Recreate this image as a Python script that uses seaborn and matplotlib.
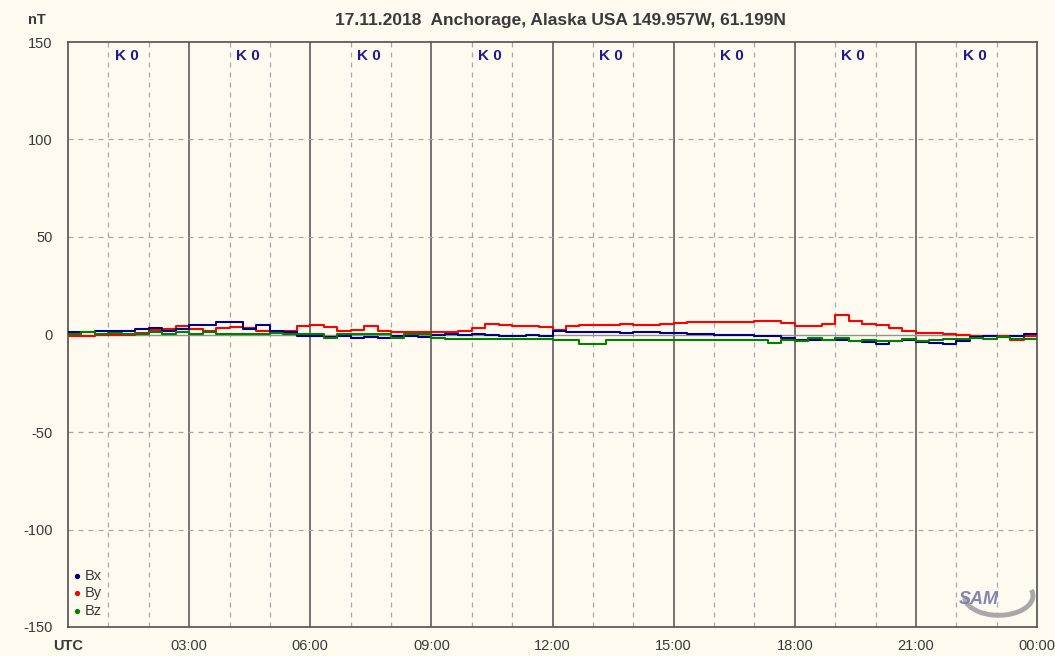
import numpy as np
import pandas as pd
import matplotlib
matplotlib.use("Agg")
import matplotlib.pyplot as plt
import seaborn as sns
from matplotlib.patches import Arc

# magnetometer data, 20 min steps from 00:00 to 24:00 (nT)
bx = [1.4, 1.4, 1.7, 2.0, 1.7, 2.6, 3.4, 2.0, 2.7, 5.0, 5.0, 6.5, 6.5, 2.6, 4.8, 2.0, 1.4, -0.9,
      -1.0, -1.4, -1.0, -2.0, -1.4, -1.7, -0.7, -0.7, -1.4, 0.0, 0.3, 0.0, 0.3, -0.3, -0.7, -0.7, -0.3, -0.7,
      1.7, 1.4, 1.4, 1.4, 1.4, 1.0, 1.4, 1.4, 1.0, 0.7, 0.3, 0.3, 0.0, 0.0, -0.3, -0.7, -1.0, -2.0,
      -2.7, -2.7, -3.0, -3.0, -3.4, -4.0, -4.8, -3.4, -2.7, -4.0, -4.4, -4.8, -3.4, -1.4, -1.0, -1.4, -0.7, 0.3,
      0.3]
by = [-0.7, -0.7, 0.0, -0.5, -0.5, 1.0, 2.5, 3.0, 4.5, 3.0, 2.0, 3.5, 4.0, 3.5, 2.0, 1.0, 2.0, 4.5,
      5.0, 4.0, 2.0, 2.5, 4.5, 2.0, 1.5, 1.5, 1.5, 1.5, 1.5, 2.0, 3.5, 5.5, 5.0, 4.5, 4.5, 4.0,
      2.4, 4.3, 5.0, 4.8, 5.0, 5.5, 5.0, 5.0, 5.5, 5.8, 6.2, 6.2, 6.2, 6.2, 6.5, 6.8, 6.8, 6.0,
      4.3, 4.3, 5.5, 10.0, 6.8, 5.5, 5.0, 3.4, 2.0, 1.0, 0.7, 0.3, -0.3, -1.0, -0.7, -1.0, -2.7, -1.0,
      -1.0]
bz = [0.5, 1.5, 0.5, 1.0, 0.5, 0.5, 1.5, 0.5, 1.5, 0.3, 1.5, 0.5, 0.3, 0.3, 0.5, 1.0, 0.3, 0.3,
      0.3, -2.0, 0.3, 0.3, 0.3, 0.3, -2.0, 0.3, 0.3, -2.0, -2.5, -2.5, -2.5, -2.5, -2.5, -2.5, -2.5, -2.5,
      -2.7, -2.7, -5.0, -5.0, -2.7, -2.7, -2.7, -2.7, -2.7, -2.7, -2.7, -2.7, -2.7, -2.7, -2.7, -2.7, -4.5, -2.7,
      -3.4, -2.0, -3.0, -2.0, -3.4, -3.0, -3.4, -3.4, -2.5, -3.4, -3.0, -2.4, -2.4, -2.0, -2.4, -1.5, -2.4, -2.4,
      -2.4]
hours = np.arange(len(bx)) / 3.0

k_index = [0, 0, 0, 0, 0, 0, 0, 0]
x_labels = ["UTC", "03:00", "06:00", "09:00", "12:00", "15:00", "18:00", "21:00", "00:00"]
y_ticks = [150, 100, 50, 0, -50, -100, -150]

df = pd.DataFrame({"hour": np.tile(hours, 3),
                   "nT": by + bx + bz,
                   "comp": ["By"] * len(by) + ["Bx"] * len(bx) + ["Bz"] * len(bz)})

colors = {"Bx": "#000080", "By": "#ff0000", "Bz": "#008000"}
bg = "#fefaef"
txt = "#3a3a3a"

sns.set_style("white")
plt.rcParams["font.family"] = ["Liberation Sans", "DejaVu Sans"]
plt.rcParams["axes.unicode_minus"] = False

fig = plt.figure(figsize=(10.55, 6.56), dpi=100, facecolor=bg)
ax = fig.add_axes([68 / 1055, 1 - 627 / 656, 969 / 1055, 585 / 656])
ax.set_facecolor(bg)

# grid
for h in range(1, 24):
    if h % 3 == 0:
        ax.axvline(h, color="#505050", lw=1.1, zorder=1)
    else:
        ax.axvline(h, color="#a8a8a8", lw=0.9, ls=(0, (4, 4)), zorder=1)
for v in [100, 50, -50, -100]:
    ax.axhline(v, color="#a8a8a8", lw=0.9, ls=(0, (4, 4)), zorder=1)
ax.axhline(0, color="#909090", lw=1.0, zorder=1)

sns.lineplot(data=df, x="hour", y="nT", hue="comp", palette=colors, ax=ax,
             drawstyle="steps-post", lw=1.5, legend=False, zorder=3,
             hue_order=["By", "Bx", "Bz"])

ax.set_xlim(0, 24)
ax.set_ylim(-150, 150)
ax.set_xticks(range(0, 25, 3))
ax.set_xticks(range(0, 25), minor=True)
ax.set_xticklabels(x_labels)
ax.set_yticks(y_ticks)
ax.tick_params(axis="both", which="both", direction="out", length=5, width=1.0,
               color="#505050", labelsize=10.5, labelcolor=txt)
ax.tick_params(axis="y", pad=6)
ax.tick_params(axis="x", pad=4)
ax.get_xticklabels()[0].set_fontweight("bold")
ax.set_xlabel("")
ax.set_ylabel("")
for s in ax.spines.values():
    s.set_color("#505050")
    s.set_linewidth(1.2)

# K index labels
for i, k in enumerate(k_index):
    ax.text(i * 3 + 1.45, 143, f"K {k}", color="#1c1c8c", fontsize=11, fontweight="bold",
            ha="center", va="center")

# legend
for i, name in enumerate(["Bx", "By", "Bz"]):
    yy = -124 - i * 8.8
    ax.plot([0.22], [yy], marker="o", ms=2.8, color=colors[name], zorder=4)
    ax.text(0.42, yy, name, fontsize=10.5, color=txt, va="center", ha="left")

# SAM mark
ax.add_patch(Arc((23.05, -134), 1.7, 20, theta1=235, theta2=75, color="#a8a8a8", lw=3.5, zorder=4))
ax.text(22.55, -136, "SAM", fontsize=13, style="italic", color="#6f72a6",
        ha="center", va="center", fontweight="bold", alpha=0.85, zorder=5)

fig.text(560 / 1055, 1 - 20 / 656, "17.11.2018  Anchorage, Alaska USA 149.957W, 61.199N",
         ha="center", va="center", fontsize=12.5, fontweight="bold", color=txt)
fig.text(37 / 1055, 1 - 20 / 656, "nT", ha="center", va="center", fontsize=10.5,
         fontweight="bold", color=txt)

fig.savefig("out.png", dpi=100, facecolor=bg)
